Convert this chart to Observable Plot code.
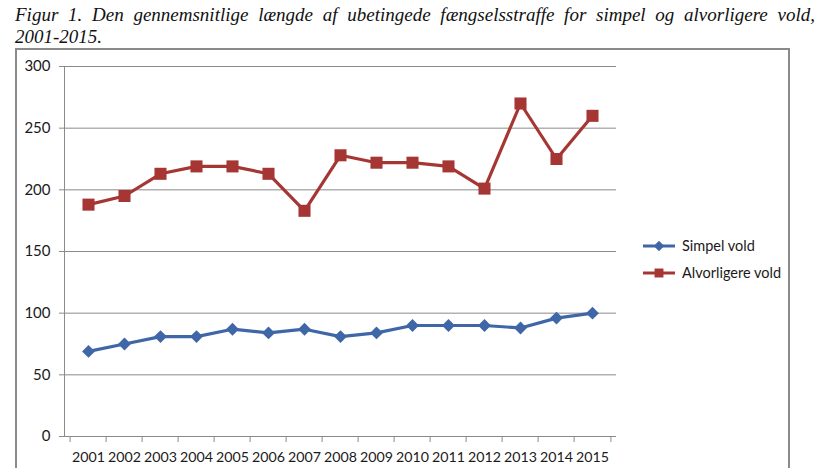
<!DOCTYPE html>
<html>
<head>
<meta charset="utf-8">
<script src="https://cdn.jsdelivr.net/npm/d3@7"></script>
<script src="https://cdn.jsdelivr.net/npm/@observablehq/plot@0.6"></script>
<style>
  html, body { margin: 0; padding: 0; background: #fff; overflow: hidden; }
  body { width: 832px; height: 468px; position: relative; }
  #title {
    position: absolute; left: 15px; top: 4px; width: 800px;
    font-family: "Liberation Serif", "Times New Roman", serif; font-style: italic;
    font-size: 19px; line-height: 22px; color: #111;
  }
  #title .l1 { text-align: justify; text-align-last: justify; white-space: nowrap; }
  #box {
    position: absolute; left: 15px; top: 48px; width: 775px; height: 440px;
    border: 2px solid #8a8a8a; box-sizing: border-box;
  }
  #chart { position: absolute; left: 0; top: 0; }
  #legend {
    position: absolute; left: 643px; top: 232px;
    font-family: Lato, "Open Sans", sans-serif; font-size: 14.5px; color: #1a1a1a;
  }
  #legend .row { height: 27px; display: flex; align-items: center; }
  #legend svg { margin-right: 5px; }
</style>
</head>
<body>
<div id="title">
  <div class="l1">Figur 1. Den gennemsnitlige længde af ubetingede fængselsstraffe for simpel og alvorligere vold,</div>
  <div>2001-2015.</div>
</div>
<div id="box"></div>
<div id="chart"></div>
<div id="legend"></div>
<script>
// Gennemsnitlig længde (dage) af ubetingede fængselsstraffe
const years = ["2001","2002","2003","2004","2005","2006","2007","2008","2009","2010","2011","2012","2013","2014","2015"];
const simpelVold = [69, 75, 81, 81, 87, 84, 87, 81, 84, 90, 90, 90, 88, 96, 100];
const alvorligereVold = [188, 195, 213, 219, 219, 213, 183, 228, 222, 222, 219, 201, 270, 225, 260];
const seriesNames = ["Simpel vold", "Alvorligere vold"];
const yTicks = [0, 50, 100, 150, 200, 250, 300];

const blue = "#3f67a8";
const red = "#a63633";
const gray = "#8a8a8a";

const rows = [
  ...years.map((year, i) => ({year, value: simpelVold[i], series: seriesNames[0]})),
  ...years.map((year, i) => ({year, value: alvorligereVold[i], series: seriesNames[1]}))
];
const simpelRows = rows.filter(d => d.series === seriesNames[0]);
const alvorRows = rows.filter(d => d.series === seriesNames[1]);

const W = 832, H = 468;
const margin = {top: 66, right: 216, bottom: 32, left: 64};
// half a category step: tick marks sit between the year labels
const halfStep = (W - margin.left - margin.right) / years.length / 2;

const chart = Plot.plot({
  width: W, height: H,
  marginTop: margin.top, marginRight: margin.right,
  marginBottom: margin.bottom, marginLeft: margin.left,
  style: {fontFamily: "Lato, 'Open Sans', sans-serif", fontSize: "14.2px", color: "#1a1a1a", background: "transparent"},
  x: {type: "point", domain: years, padding: 0.5},
  y: {domain: [0, 300]},
  marks: [
    Plot.gridY(yTicks.slice(1), {stroke: gray, strokeOpacity: 1, strokeWidth: 1}),
    Plot.frame({anchor: "left", stroke: gray, strokeWidth: 1}),
    Plot.ruleY([0], {stroke: gray, strokeWidth: 1}),
    Plot.axisY({ticks: yTicks, tickSize: 5, tickPadding: 9, stroke: gray, label: null, fontSize: 15}),
    Plot.axisX({tickSize: 0, tickPadding: 15, label: null}),
    Plot.axisX({tickSize: 6, dx: -halfStep, tickFormat: () => "", stroke: gray, label: null}),
    Plot.axisX({ticks: [years[years.length - 1]], tickSize: 6, dx: halfStep, tickFormat: () => "", stroke: gray, label: null}),
    Plot.line(simpelRows, {x: "year", y: "value", stroke: blue, strokeWidth: 3.2}),
    Plot.dot(simpelRows, {x: "year", y: "value", symbol: "diamond2", r: 5.8, fill: blue, stroke: null}),
    Plot.line(alvorRows, {x: "year", y: "value", stroke: red, strokeWidth: 3.2}),
    Plot.dot(alvorRows, {x: "year", y: "value", symbol: "square", r: 6.8, fill: red, stroke: null})
  ]
});
document.getElementById("chart").appendChild(chart);

// legend
const legend = d3.select("#legend");
const legendItems = [
  {name: seriesNames[0], color: blue, symbol: d3.symbolDiamond2, size: 70},
  {name: seriesNames[1], color: red, symbol: d3.symbolSquare, size: 80}
];
for (const item of legendItems) {
  const row = legend.append("div").attr("class", "row");
  const svg = row.append("svg").attr("width", 34).attr("height", 14);
  svg.append("line").attr("x1", 0).attr("x2", 32).attr("y1", 7).attr("y2", 7)
    .attr("stroke", item.color).attr("stroke-width", 3);
  svg.append("path").attr("d", d3.symbol(item.symbol, item.size)())
    .attr("transform", "translate(16,7)").attr("fill", item.color);
  row.append("span").text(item.name);
}
</script>
</body>
</html>
